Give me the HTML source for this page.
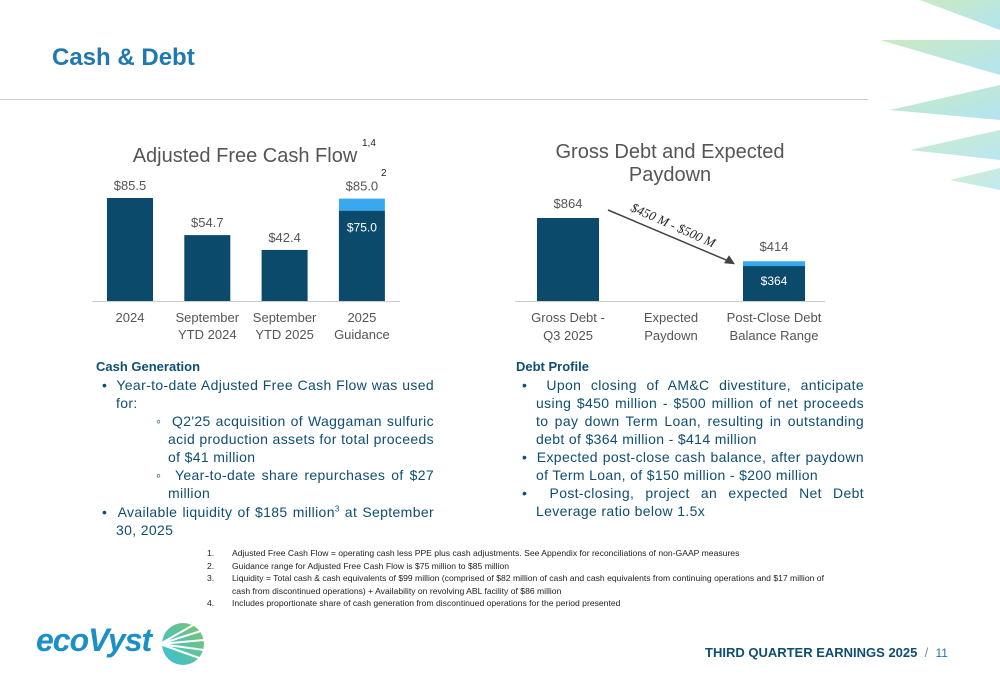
<!DOCTYPE html>
<html><head><meta charset="utf-8"><style>
body{margin:0;width:1000px;height:685px;overflow:hidden;background:#fff;font-family:"Liberation Sans",sans-serif;position:relative}
.a{position:absolute}
.t{color:#0e4e72;font-size:14px;line-height:18px;letter-spacing:0.35px}
ul{margin:0;padding:0;list-style:none}
li{text-align:justify}
.fn{font-size:8.6px;color:#222;line-height:12.5px}
</style></head><body>
<div class="a" style="left:52px;top:44px;font-size:24px;font-weight:bold;color:#1f78b0">Cash &amp; Debt</div>
<div class="a" style="left:0;top:99px;width:868px;height:1px;background:#ccc"></div>
<svg class="a" style="left:860px;top:0" width="140" height="190">
<defs><linearGradient id="g" x1="0" y1="0" x2="1" y2="1"><stop offset="0" stop-color="#a8dc9a"/><stop offset="1" stop-color="#7fd3e6"/></linearGradient></defs>
<polygon points="140,0 140,30 60,0" fill="url(#g)" opacity=".6"/>
<polygon points="140,40 140,75 20,40" fill="url(#g)" opacity=".6"/>
<polygon points="140,85 140,120 30,110" fill="url(#g)" opacity=".6"/>
<polygon points="140,130 140,160 50,150" fill="url(#g)" opacity=".55"/>
<polygon points="140,168 140,190 90,180" fill="url(#g)" opacity=".5"/>
</svg>
<svg class="a" id="c1" style="left:0;top:0" width="500" height="350"></svg>
<svg class="a" id="c2" style="left:500px;top:0" width="360" height="350"></svg>

<div class="a t" style="left:96px;top:358px;width:338px">
<div style="font-weight:bold;font-size:13px;letter-spacing:0">Cash Generation</div>
<ul>
<li style="padding-left:20px;text-indent:-14px">• &nbsp;Year-to-date Adjusted Free Cash Flow was used for:</li>
<li style="padding-left:72px;text-indent:-12px">◦ &nbsp;Q2'25 acquisition of Waggaman sulfuric acid production assets for total proceeds of $41 million</li>
<li style="padding-left:72px;text-indent:-12px">◦ &nbsp;Year-to-date share repurchases of $27 million</li>
<li style="padding-left:20px;text-indent:-14px;margin-top:1px">• &nbsp;Available liquidity of $185 million<sup style="font-size:8px;line-height:0">3</sup> at September 30, 2025</li>
</ul></div>
<div class="a t" style="left:516px;top:358px;width:348px">
<div style="font-weight:bold;font-size:13px;letter-spacing:0">Debt Profile</div>
<ul>
<li style="padding-left:20px;text-indent:-14px">• &nbsp;Upon closing of AM&amp;C divestiture, anticipate using $450 million - $500 million of net proceeds to pay down Term Loan, resulting in outstanding debt of $364 million - $414 million</li>
<li style="padding-left:20px;text-indent:-14px">• &nbsp;Expected post-close cash balance, after paydown of Term Loan, of $150 million - $200 million</li>
<li style="padding-left:20px;text-indent:-14px">• &nbsp;Post-closing, project an expected Net Debt Leverage ratio below 1.5x</li>
</ul></div>
<div class="a fn" style="left:207px;top:547px;width:630px">
<div style="display:flex"><span style="width:25px">1.</span><span>Adjusted Free Cash Flow = operating cash less PPE plus cash adjustments. See Appendix for reconciliations of non-GAAP measures</span></div>
<div style="display:flex"><span style="width:25px">2.</span><span>Guidance range for Adjusted Free Cash Flow is $75 million to $85 million</span></div>
<div style="display:flex"><span style="width:25px;flex:none">3.</span><span>Liquidity = Total cash &amp; cash equivalents of $99 million (comprised of $82 million of cash and cash equivalents from continuing operations and $17 million of cash from discontinued operations) + Availability on revolving ABL facility of $86 million</span></div>
<div style="display:flex"><span style="width:25px">4.</span><span>Includes proportionate share of cash generation from discontinued operations for the period presented</span></div>
</div>
<div class="a" style="left:36px;top:622px;font-size:32px;font-style:italic;font-weight:bold;color:#1a8fc8;letter-spacing:-1px">ecoVyst</div>
<svg class="a" style="left:157px;top:620px" width="50" height="48"><defs><linearGradient id="lg" x1="1" y1="0" x2="0" y2="1"><stop offset="0" stop-color="#7cc46a"/><stop offset="1" stop-color="#38c0dc"/></linearGradient></defs><circle cx="26" cy="24" r="21" fill="url(#lg)"/><g stroke="#fff" stroke-width="2"><line x1="3" y1="24" x2="47" y2="10"/><line x1="3" y1="24" x2="47" y2="20"/><line x1="3" y1="24" x2="47" y2="30"/><line x1="3" y1="24" x2="45" y2="39"/><line x1="3" y1="24" x2="38" y2="4"/></g></svg>
<div class="a" style="left:705px;top:645px;font-size:13px;font-weight:bold;color:#0e4e72">THIRD QUARTER EARNINGS 2025 <span style="color:#888;font-weight:normal">&nbsp;/&nbsp;</span> <span style="color:#1f78b0;font-weight:normal;font-size:12px">11</span></div>
<script>
const fcfCats=[["2024"],["September","YTD 2024"],["September","YTD 2025"],["2025","Guidance"]];
const fcfLow=[85.5,54.7,42.4,75.0];
const fcfHigh=[null,null,null,85.0];
const fcfLabels=["$85.5","$54.7","$42.4","$85.0"];
const debtCats=[["Gross Debt -","Q3 2025"],["Expected","Paydown"],["Post-Close Debt","Balance Range"]];
const debtLow=[864,null,364];
const debtHigh=[null,null,414];
const debtLabels=["$864","","$414"];
const NS="http://www.w3.org/2000/svg";
function mk(p,t,a,txt){const e=document.createElementNS(NS,t);for(const k in a)e.setAttribute(k,a[k]);if(txt!=null)e.textContent=txt;p.appendChild(e);return e;}
const DK="#0b4a6b",LT="#3aa8f0",GR="#555";
(function(){
const s=document.getElementById('c1');const base=301,k=103/85.5,x0=107,step=77.3,w=46;
const y=v=>base-v*k;
let t=mk(s,'text',{x:245,y:162,'text-anchor':'middle','font-size':20,fill:GR},'Adjusted Free Cash Flow');
mk(s,'text',{x:362,y:146,'font-size':10,fill:'#222'},'1,4');
mk(s,'text',{x:381,y:176,'font-size':10,fill:'#222'},'2');
fcfLow.forEach((v,i)=>{const x=x0+i*step;const top=fcfHigh[i]!=null?fcfHigh[i]:v;
const b=mk(s,'rect',{x:x,y:y(v),width:w,height:base-y(v),fill:DK});
if(fcfHigh[i]!=null){const r=mk(s,'rect',{x:x,y:y(fcfHigh[i]),width:w,height:y(v)-y(fcfHigh[i]),fill:LT});
mk(s,'text',{x:x+w/2,y:y(v)+21,'text-anchor':'middle','font-size':12,fill:'#fff'},'$'+v.toFixed(1));}
mk(s,'text',{x:x+w/2,y:y(top)-8,'text-anchor':'middle','font-size':13,fill:GR},fcfLabels[i]);
fcfCats[i].forEach((c,j)=>mk(s,'text',{x:x+w/2,y:322+j*17,'text-anchor':'middle','font-size':13,fill:GR},c));});
mk(s,'line',{x1:92,x2:400,y1:base+.5,y2:base+.5,stroke:'#ccc'});
})();
(function(){
const s=document.getElementById('c2');const base=301,k=83/864,x0=37,step=103,w=62;
const y=v=>base-v*k;
mk(s,'text',{x:170,y:158,'text-anchor':'middle','font-size':20,fill:GR},'Gross Debt and Expected');
mk(s,'text',{x:170,y:181,'text-anchor':'middle','font-size':20,fill:GR},'Paydown');
debtCats.forEach((c,i)=>{const x=x0+i*step;const v=debtLow[i];
if(v!=null){const top=debtHigh[i]!=null?debtHigh[i]:v;
const b=mk(s,'rect',{x:x,y:y(v),width:w,height:base-y(v),fill:DK});
if(debtHigh[i]!=null){const r=mk(s,'rect',{x:x,y:y(debtHigh[i]),width:w,height:y(v)-y(debtHigh[i]),fill:LT});
mk(s,'text',{x:x+w/2,y:y(v)+19,'text-anchor':'middle','font-size':12,fill:'#fff'},'$'+v);}
mk(s,'text',{x:x+w/2,y:y(top)-10,'text-anchor':'middle','font-size':13,fill:GR},debtLabels[i]);}
c.forEach((t,j)=>mk(s,'text',{x:x+w/2,y:322+j*18,'text-anchor':'middle','font-size':13,fill:GR},t));});
mk(s,'line',{x1:15,x2:325,y1:base+.5,y2:base+.5,stroke:'#ccc'});
const ax1=x0+w+9,ay1=y(debtLow[0])-8,ax2=x0+2*step-8,ay2=y(debtHigh[2])+3;
mk(s,'line',{x1:ax1,y1:ay1,x2:ax2-6,y2:ay2-3,stroke:'#444','stroke-width':1.5});
mk(s,'polygon',{points:`${ax2},${ay2} ${ax2-11},${ay2-1} ${ax2-6},${ay2-9}`,fill:'#444'});
const g=mk(s,'text',{x:(ax1+ax2)/2,y:(ay1+ay2)/2-8,'text-anchor':'middle','font-size':13,'font-style':'italic','font-family':'Liberation Serif',fill:'#222',transform:`rotate(24 ${(ax1+ax2)/2} ${(ay1+ay2)/2-8})`},'$450 M - $500 M');

})();
</script>
</body></html>
